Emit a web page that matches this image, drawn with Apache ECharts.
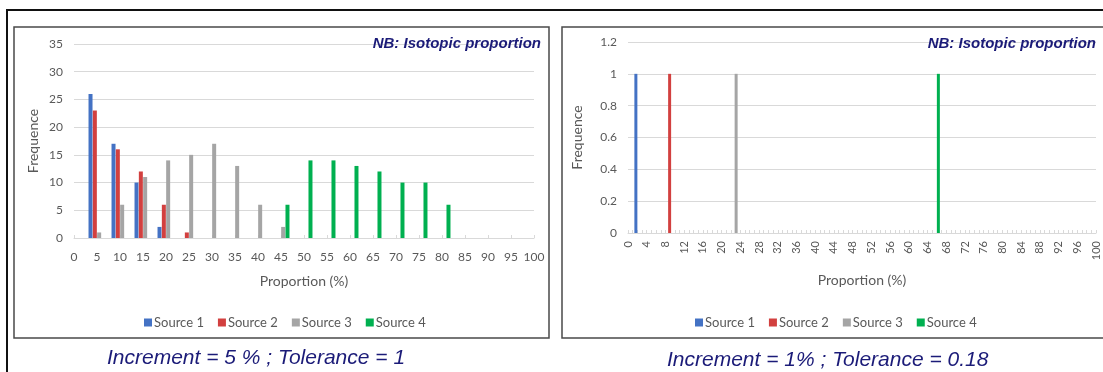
<!DOCTYPE html>
<html>
<head>
<meta charset="utf-8">
<script src="https://cdn.jsdelivr.net/npm/echarts@6/dist/echarts.min.js"></script>
<style>
html,body{margin:0;padding:0;background:#fff;}
#c{width:1103px;height:372px;}
</style>
</head>
<body>
<div id="c"></div>
<script>
// ---- Data ----
const seriesNames = ['Source 1', 'Source 2', 'Source 3', 'Source 4'];
const leftCategories = ['0','5','10','15','20','25','30','35','40','45','50','55','60','65','70','75','80','85','90','95','100'];
const leftSource1 = [0,26,17,10,2,0,0,0,0,0,0,0,0,0,0,0,0,0,0,0,0];
const leftSource2 = [0,23,16,12,6,1,0,0,0,0,0,0,0,0,0,0,0,0,0,0,0];
const leftSource3 = [0,1,6,11,14,15,17,13,6,2,0,0,0,0,0,0,0,0,0,0,0];
const leftSource4 = [0,0,0,0,0,0,0,0,0,6,14,14,13,12,10,10,6,0,0,0,0];
const leftYTicks = { min: 0, max: 35, step: 5 };

const rightCategories = Array.from({ length: 101 }, (_, i) => String(i));
// sparse [category, frequency] pairs; every other category is 0
const rightSource1 = [['2', 1]];
const rightSource2 = [['9', 1]];
const rightSource3 = [['23', 1]];
const rightSource4 = [['66', 1]];
const rightYTicks = { min: 0, max: 1.2, step: 0.2 };

const noteText = 'NB: Isotopic proportion';
const leftCaption = 'Increment = 5 % ; Tolerance = 1';
const rightCaption = 'Increment = 1% ; Tolerance = 0.18';
const xName = 'Proportion (%)';
const yName = 'Frequence';

// ---- Style ----
const colors = ['#4472C4', '#D2403F', '#A5A5A5', '#00B050'];
const FONT = 'Lato';
const labelColor = '#595959';
const navy = '#1b1b78';

const chart = echarts.init(document.getElementById('c'), null, { renderer: 'canvas' });

function xAxisCommon(gridIndex, data, extra) {
  return Object.assign({
    type: 'category', gridIndex, data, boundaryGap: false,
    axisLine: { lineStyle: { color: '#d9d9d9', width: 1 } },
    axisTick: { show: true, inside: true, length: 3, interval: 0, lineStyle: { color: '#d9d9d9' } },
    name: xName, nameLocation: 'middle',
    nameTextStyle: { color: labelColor, fontFamily: FONT, fontSize: 14 },
    splitLine: { show: false }
  }, extra);
}
function yAxisCommon(gridIndex, t, nameGap) {
  return {
    type: 'value', gridIndex, min: t.min, max: t.max, interval: t.step,
    axisLine: { show: false }, axisTick: { show: false },
    axisLabel: { color: labelColor, fontFamily: FONT, fontSize: 12, margin: 11 },
    splitLine: { lineStyle: { color: '#d9d9d9', width: 1 } },
    name: yName, nameLocation: 'middle', nameGap,
    nameTextStyle: { color: labelColor, fontFamily: FONT, fontSize: 14 }
  };
}

const leftData = [leftSource1, leftSource2, leftSource3, leftSource4];
const rightData = [rightSource1, rightSource2, rightSource3, rightSource4];

const series = [];
leftData.forEach((d, i) => series.push({
  name: seriesNames[i], type: 'bar', xAxisIndex: 0, yAxisIndex: 0, data: d,
  barWidth: 4, barGap: '8%', itemStyle: { color: colors[i] }
}));
rightData.forEach((d, i) => series.push({
  name: seriesNames[i], type: 'bar', xAxisIndex: 1, yAxisIndex: 1, data: d,
  barWidth: 3, barGap: '-67%', itemStyle: { color: colors[i] }
}));

const legendCommon = {
  data: seriesNames, orient: 'horizontal', icon: 'rect', itemWidth: 8, itemHeight: 8,
  itemGap: 14, textStyle: { color: labelColor, fontFamily: FONT, fontSize: 13, padding: [0, 0, 0, -3] },
  selectedMode: false
};

chart.setOption({
  animation: false,
  color: colors,
  grid: [
    { left: 74, right: 569, top: 44, bottom: 134 },
    { left: 628, right: 7, top: 42, bottom: 139 }
  ],
  xAxis: [
    xAxisCommon(0, leftCategories, {
      nameGap: 36,
      axisLabel: { color: labelColor, fontFamily: FONT, fontSize: 12, margin: 13, interval: 0 }
    }),
    xAxisCommon(1, rightCategories, {
      nameGap: 40,
      axisLabel: { color: labelColor, fontFamily: FONT, fontSize: 11, margin: 8, interval: 3, rotate: 90 }
    })
  ],
  yAxis: [
    yAxisCommon(0, leftYTicks, 34),
    yAxisCommon(1, rightYTicks, 44)
  ],
  legend: [
    Object.assign({ left: 139, top: 311 }, legendCommon),
    Object.assign({ left: 690, top: 311 }, legendCommon)
  ],
  title: [
    { text: noteText, right: 562, top: 36, padding: 0,
      textStyle: { color: navy, fontFamily: 'Liberation Sans', fontWeight: 'bold', fontStyle: 'italic', fontSize: 15 } },
    { text: noteText, right: 7, top: 36, padding: 0,
      textStyle: { color: navy, fontFamily: 'Liberation Sans', fontWeight: 'bold', fontStyle: 'italic', fontSize: 15 } },
    { text: leftCaption, left: 107, top: 348, padding: 0,
      textStyle: { color: navy, fontFamily: 'Liberation Sans', fontWeight: 'normal', fontStyle: 'italic', fontSize: 21 } },
    { text: rightCaption, left: 667, top: 350, padding: 0,
      textStyle: { color: navy, fontFamily: 'Liberation Sans', fontWeight: 'normal', fontStyle: 'italic', fontSize: 21 } }
  ],
  graphic: [
    { type: 'line', shape: { x1: 6, y1: 10, x2: 1103, y2: 10 }, style: { stroke: '#111', lineWidth: 2 } },
    { type: 'line', shape: { x1: 7, y1: 10, x2: 7, y2: 372 }, style: { stroke: '#111', lineWidth: 2 } },
    { type: 'rect', shape: { x: 14, y: 27, width: 535, height: 311 }, style: { fill: 'none', stroke: '#4a4a4a', lineWidth: 1.5 } },
    { type: 'rect', shape: { x: 562, y: 27, width: 560, height: 311 }, style: { fill: 'none', stroke: '#4a4a4a', lineWidth: 1.5 } }
  ],
  series
});
</script>
</body>
</html>
